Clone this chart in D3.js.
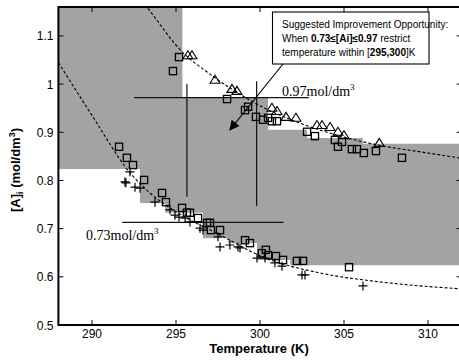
<!DOCTYPE html>
<html>
<head>
<meta charset="utf-8">
<script src="https://cdn.jsdelivr.net/npm/d3@7"></script>
<style>
	body { margin: 0; background: #fff; }
	svg { display: block; }
	.tick-label { font-family: Arial, "Liberation Sans", sans-serif; font-size: 12px; }
	.axis-title { font-family: Arial, "Liberation Sans", sans-serif; font-size: 13px; font-weight: bold; }
	.level { font-family: "Times New Roman", "Liberation Serif", serif; font-size: 14px; }
	.note { font-family: Arial, "Liberation Sans", sans-serif; font-size: 10px; }
</style>
</head>
<body>
<div id="chart"></div>
<script>
var xTicks = [290, 295, 300, 305, 310];
var yTicks = [0.5, 0.6, 0.7, 0.8, 0.9, 1, 1.1];
var yTickLabels = ['0.5', '0.6', '0.7', '0.8', '0.9', '1', '1.1'];

// triangles (upper data set)
var triT = [295.71, 295.95, 297.32, 298.33, 298.63, 300.71, 301.01, 301.55, 302.14, 303.39, 303.69, 304.17, 304.64, 305.0, 307.1];
var triV = [1.060, 1.060, 1.009, 0.990, 0.986, 0.951, 0.944, 0.932, 0.930, 0.915, 0.915, 0.911, 0.901, 0.894, 0.878];

// squares
var sqT = [295.18, 294.82, 298.04, 299.11, 299.29, 299.76, 300.18, 300.48, 300.71, 301.01, 302.80, 303.27, 304.46, 304.64, 304.88, 305.47, 305.77, 306.18, 306.90, 308.45,
	291.61, 292.08, 292.44, 293.10, 294.17, 294.40, 295.36, 295.65, 295.83, 296.31, 296.85, 297.02, 297.08, 297.62, 299.11, 299.40, 300.11, 300.35, 300.48, 300.95, 301.37, 302.20, 302.56, 305.30];
var sqV = [1.056, 1.027, 0.969, 0.946, 0.953, 0.932, 0.926, 0.930, 0.923, 0.923, 0.901, 0.892, 0.884, 0.870, 0.880, 0.865, 0.865, 0.857, 0.861, 0.847,
	0.870, 0.847, 0.832, 0.801, 0.774, 0.755, 0.743, 0.733, 0.733, 0.722, 0.712, 0.712, 0.697, 0.697, 0.676, 0.670, 0.649, 0.656, 0.645, 0.643, 0.635, 0.633, 0.633, 0.620];

// plus signs (lower data set)
var plusT = [292.02, 292.26, 291.96, 292.56, 292.86, 293.75, 294.64, 294.94, 295.18, 295.54, 295.83, 296.43, 296.61, 297.50, 297.62, 298.21, 298.69, 298.81, 299.82, 300.30, 300.89, 301.31, 302.50, 302.68, 306.13];
var plusV = [0.795, 0.818, 0.797, 0.786, 0.784, 0.755, 0.739, 0.728, 0.724, 0.722, 0.714, 0.701, 0.697, 0.683, 0.662, 0.666, 0.662, 0.660, 0.639, 0.639, 0.629, 0.622, 0.604, 0.604, 0.581];

// dashed fitted curves
var upperFitT = [292.6, 293.27, 295.42, 296.85, 298.3, 300.0, 302.38, 305.0, 307.1, 310.0, 312.0];
var upperFitV = [1.19, 1.16, 1.065, 1.025, 0.990, 0.955, 0.919, 0.890, 0.873, 0.857, 0.846];
var lowerFitT = [288.0, 290.0, 292.26, 293.45, 295.0, 297.62, 300.18, 303.57, 307.0, 312.0];
var lowerFitV = [1.045, 0.935, 0.816, 0.774, 0.735, 0.687, 0.641, 0.608, 0.590, 0.575];

// shaded operating region: step edges (temperature, top, bottom)
var regionT = [288.0, 292.86, 294.35, 295.38, 296.6, 298.1, 299.82, 300.48, 301.8, 302.8, 306.12, 312.0];
var regionTop = [1.16, 1.16, 1.16, 0.973, 0.973, 0.973, 0.973, 0.905, 0.905, 0.888, 0.876];
var regionBottom = [0.824, 0.753, 0.733, 0.733, 0.680, 0.670, 0.635, 0.635, 0.624, 0.624, 0.624];

// reference levels
var levelV = [0.972, 0.713];
var levelT0 = [292.5, 291.8];
var levelT1 = [302.9, 301.4];
var levelText = ['0.97mol/dm', '0.73mol/dm'];
var boundT = [295.65, 299.8];
var boundV0 = [0.766, 0.747];
var boundV1 = [1.0, 1.006];

var width = 459, height = 362;
var margin = { left: 58.4, top: 7, bottom: 37 };
var x = d3.scaleLinear().domain([288, 312]).range([margin.left, margin.left + 24 * 16.8]);
var y = d3.scaleLinear().domain([0.5, 1.16]).range([height - margin.bottom, margin.top]);

var svg = d3.select('#chart').append('svg')
	.attr('width', width)
	.attr('height', height);

svg.append('defs').append('clipPath').attr('id', 'plotClip')
	.append('rect')
	.attr('x', x(288)).attr('y', y(1.16))
	.attr('width', x(312) - x(288)).attr('height', y(0.5) - y(1.16));
svg.select('defs').append('marker')
	.attr('id', 'arrowHead')
	.attr('viewBox', '0 0 10 10')
	.attr('refX', 9).attr('refY', 5)
	.attr('markerWidth', 11).attr('markerHeight', 10)
	.attr('markerUnits', 'userSpaceOnUse')
	.attr('orient', 'auto')
	.append('path').attr('d', 'M0,0L10,5L0,10Z').attr('fill', '#000');

var plot = svg.append('g').attr('clip-path', 'url(#plotClip)');

// shaded region as a stepped polygon
var regionPts = [];
for(var i = 0; i < regionTop.length; i++) {
	regionPts.push([x(regionT[i]), y(regionTop[i])]);
	regionPts.push([x(regionT[i + 1]), y(regionTop[i])]);
}
for(var j = regionBottom.length - 1; j >= 0; j--) {
	regionPts.push([x(regionT[j + 1]), y(regionBottom[j])]);
	regionPts.push([x(regionT[j]), y(regionBottom[j])]);
}
plot.append('path')
	.attr('d', 'M' + regionPts.join('L') + 'Z')
	.attr('fill', '#a3a3a3');

// crosshair lines
levelV.forEach(function(v, i) {
	plot.append('line')
		.attr('x1', x(levelT0[i])).attr('x2', x(levelT1[i]))
		.attr('y1', y(v)).attr('y2', y(v))
		.attr('stroke', '#111').attr('stroke-width', 1.2);
});
boundT.forEach(function(t, i) {
	plot.append('line')
		.attr('x1', x(t)).attr('x2', x(t))
		.attr('y1', y(boundV0[i])).attr('y2', y(boundV1[i]))
		.attr('stroke', '#111').attr('stroke-width', 1.2);
});

// fitted curves
var fitLine = d3.line()
	.x(function(d) { return x(d[0]); })
	.y(function(d) { return y(d[1]); })
	.curve(d3.curveMonotoneX);
[[upperFitT, upperFitV], [lowerFitT, lowerFitV]].forEach(function(fit) {
	plot.append('path')
		.datum(d3.zip(fit[0], fit[1]))
		.attr('d', fitLine)
		.attr('fill', 'none')
		.attr('stroke', '#000')
		.attr('stroke-width', 1.1)
		.attr('stroke-dasharray', '3,2');
});

// markers
plot.append('g').selectAll('path')
	.data(d3.zip(plusT, plusV))
	.enter().append('path')
	.attr('d', function(d) {
		var cx = x(d[0]), cy = y(d[1]), s = 4.5;
		return 'M' + (cx - s) + ',' + cy + 'H' + (cx + s) + 'M' + cx + ',' + (cy - s) + 'V' + (cy + s);
	})
	.attr('stroke', '#000').attr('stroke-width', 1.2).attr('fill', 'none');
plot.append('g').selectAll('rect')
	.data(d3.zip(sqT, sqV))
	.enter().append('rect')
	.attr('x', function(d) { return x(d[0]) - 3.6; })
	.attr('y', function(d) { return y(d[1]) - 3.6; })
	.attr('width', 7.2).attr('height', 7.2)
	.attr('fill', 'none').attr('stroke', '#000').attr('stroke-width', 1.3);
plot.append('g').selectAll('path')
	.data(d3.zip(triT, triV))
	.enter().append('path')
	.attr('d', function(d) {
		var cx = x(d[0]), cy = y(d[1]);
		return 'M' + (cx - 5) + ',' + (cy + 3.5) + 'L' + cx + ',' + (cy - 4.5) + 'L' + (cx + 5) + ',' + (cy + 3.5) + 'Z';
	})
	.attr('fill', 'none').attr('stroke', '#000').attr('stroke-width', 1.1);

// level labels
var labelPos = [[282, 96], [86, 240]];
levelText.forEach(function(txt, i) {
	var t = svg.append('text').attr('class', 'level')
		.attr('x', labelPos[i][0]).attr('y', labelPos[i][1]);
	t.append('tspan').text(txt);
	t.append('tspan').attr('font-size', '9px').attr('dy', -6).text('3');
});

// axes frame with inward ticks
var x0 = x(288), x1 = x(312), yb = y(0.5), yt = y(1.16);
svg.append('path')
	.attr('d', 'M' + x0 + ',' + yt + 'V' + yb + 'H' + x1 + 'V' + yt + 'Z')
	.attr('fill', 'none').attr('stroke', '#000').attr('stroke-width', 2);
xTicks.forEach(function(t) {
	svg.append('line').attr('x1', x(t)).attr('x2', x(t)).attr('y1', yb).attr('y2', yb - 5).attr('stroke', '#000');
	svg.append('line').attr('x1', x(t)).attr('x2', x(t)).attr('y1', yt).attr('y2', yt + 5).attr('stroke', '#000');
	svg.append('text').attr('class', 'tick-label')
		.attr('x', x(t)).attr('y', yb + 13)
		.attr('text-anchor', 'middle').text(t);
});
yTicks.forEach(function(v, i) {
	svg.append('line').attr('x1', x0).attr('x2', x0 + 5).attr('y1', y(v)).attr('y2', y(v)).attr('stroke', '#000');
	svg.append('line').attr('x1', x1).attr('x2', x1 - 5).attr('y1', y(v)).attr('y2', y(v)).attr('stroke', '#000');
	svg.append('text').attr('class', 'tick-label')
		.attr('x', x0 - 5).attr('y', y(v) + 4.5)
		.attr('text-anchor', 'end').text(yTickLabels[i]);
});

// axis titles
svg.append('text').attr('class', 'axis-title')
	.attr('x', 259).attr('y', 353)
	.attr('text-anchor', 'middle').text('Temperature (K)');
var yTitle = svg.append('text').attr('class', 'axis-title')
	.attr('transform', 'translate(20,170) rotate(-90)')
	.attr('text-anchor', 'middle');
yTitle.append('tspan').text('[A]');
yTitle.append('tspan').attr('font-size', '9px').attr('dy', 3).text('i');
yTitle.append('tspan').attr('dy', -3).text(' (mol/dm');
yTitle.append('tspan').attr('font-size', '9px').attr('dy', -5).text('3');
yTitle.append('tspan').attr('dy', 5).text(')');

// annotation
svg.append('line')
	.attr('x1', 283).attr('y1', 64)
	.attr('x2', x(298.21)).attr('y2', y(0.905))
	.attr('stroke', '#000').attr('stroke-width', 1.1)
	.attr('marker-end', 'url(#arrowHead)');
svg.append('rect')
	.attr('x', 272.5).attr('y', 12)
	.attr('width', 156.5).attr('height', 52)
	.attr('fill', '#fff').attr('stroke', '#000').attr('stroke-width', 1.1);
var note = svg.append('text').attr('class', 'note').attr('x', 282);
note.append('tspan').attr('x', 282).attr('y', 28).text('Suggested Improvement Opportunity:');
var l2 = note.append('tspan').attr('x', 282).attr('y', 42);
l2.append('tspan').text('When ');
l2.append('tspan').attr('font-weight', 'bold').text('0.73\u2264[Ai]\u22640.97');
l2.append('tspan').text(' restrict');
var l3 = note.append('tspan').attr('x', 282).attr('y', 56);
l3.append('tspan').text('temperature within [');
l3.append('tspan').attr('font-weight', 'bold').text('295,300');
l3.append('tspan').text(']K');
</script>
</body>
</html>
